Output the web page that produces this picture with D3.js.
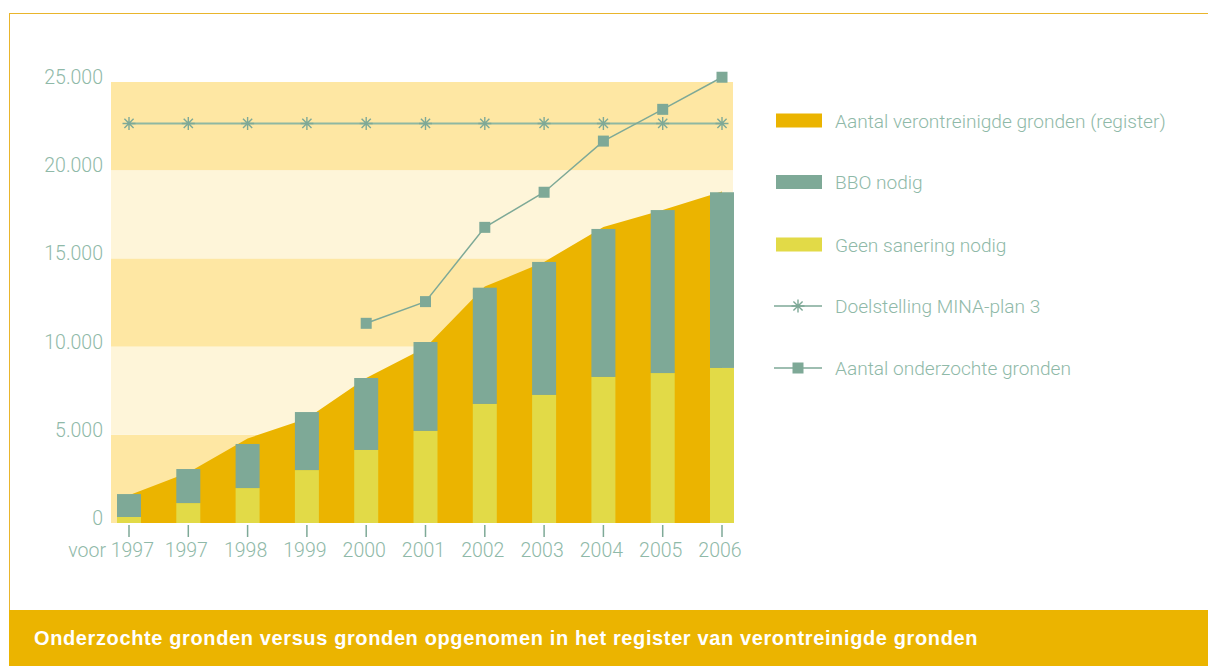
<!DOCTYPE html>
<html>
<head>
<meta charset="utf-8">
<script src="https://cdn.jsdelivr.net/npm/d3@7/dist/d3.min.js"></script>
<style>
  html, body { margin: 0; padding: 0; background: #fff; }
  svg { display: block; }
</style>
</head>
<body>
<svg id="chart" width="1208" height="666"></svg>
<script>
// ---- data ----
const categories = ["voor 1997","1997","1998","1999","2000","2001","2002","2003","2004","2005","2006"];
const registerValues = [1570, 2860, 4790, 5920, 8220, 9950, 13400, 14800, 16780, 17740, 18790];
const geenSaneringValues = [340, 1130, 1980, 3000, 4140, 5220, 6750, 7260, 8280, 8500, 8790];
const bboValues = [1300, 1930, 2500, 3290, 4080, 5040, 6590, 7540, 8390, 9240, 9960];
const doelstellingValues = [22650, 22650, 22650, 22650, 22650, 22650, 22650, 22650, 22650, 22650, 22650];
const onderzochtValues = [null, null, null, null, 11320, 12550, 16760, 18750, 21650, 23450, 25270];
const yTicks = [0, 5000, 10000, 15000, 20000, 25000];
const legendLabels = ["Aantal verontreinigde gronden (register)", "BBO nodig", "Geen sanering nodig", "Doelstelling MINA-plan 3", "Aantal onderzochte gronden"];
const titleText = "Onderzochte gronden versus gronden opgenomen in het register van verontreinigde gronden";

// ---- styles ----
const C = {
  orange: "#ebb400",
  bbo: "#7ea997",
  geen: "#e2da47",
  bandDark: "#fee7a3",
  bandLight: "#fef5d9",
  line: "#7ea997",
  starLine: "#8fb8a2",
  text: "#8fb9a8",
  titleBand: "#ebb400",
  frame: "#e9b52c"
};
const FONT = "Roboto, 'Liberation Sans', Arial, sans-serif";

const svg = d3.select("#chart");
const plot = { left: 111, right: 733, top: 82, bottom: 523 };

const x = d3.scalePoint().domain(categories).range([129, 722]);
const y = d3.scaleLinear().domain([0, 25000]).range([plot.bottom, plot.top]);
const nl = d3.formatLocale({ decimal: ",", thousands: ".", grouping: [3], currency: ["€", ""] });
const fmt = nl.format(",d");
const barW = 24;

// frame
svg.append("rect").attr("x", 9).attr("y", 13).attr("width", 1199).attr("height", 1).attr("fill", C.frame);
svg.append("rect").attr("x", 9).attr("y", 13).attr("width", 1).attr("height", 597).attr("fill", C.frame);

// background bands
const bands = d3.pairs(yTicks);
svg.append("g").selectAll("rect").data(bands).join("rect")
  .attr("x", plot.left).attr("width", plot.right - plot.left)
  .attr("y", d => y(d[1])).attr("height", d => y(d[0]) - y(d[1]))
  .attr("fill", (d, i) => i % 2 === 0 ? C.bandDark : C.bandLight);

// register area
const area = d3.area()
  .x((d, i) => x(categories[i]))
  .y0(y(0))
  .y1(d => y(d))
  .curve(d3.curveLinear);
svg.append("path").datum(registerValues).attr("d", area).attr("fill", C.orange);

// stacked bars
const gBars = svg.append("g");
categories.forEach((c, i) => {
  gBars.append("rect")
    .attr("x", x(c) - barW / 2).attr("width", barW)
    .attr("y", y(geenSaneringValues[i])).attr("height", y(0) - y(geenSaneringValues[i]))
    .attr("fill", C.geen);
  const top = geenSaneringValues[i] + bboValues[i];
  gBars.append("rect")
    .attr("x", x(c) - barW / 2).attr("width", barW)
    .attr("y", y(top)).attr("height", y(geenSaneringValues[i]) - y(top))
    .attr("fill", C.bbo);
});

// star marker path
function starPath(cx, cy, r) {
  const d = r * Math.SQRT1_2;
  return `M${cx},${cy - r}L${cx},${cy + r}` +
         `M${cx - d},${cy - d}L${cx + d},${cy + d}` +
         `M${cx - d},${cy + d}L${cx + d},${cy - d}` +
         `M${cx - r},${cy}L${cx + r},${cy}`;
}

// doelstelling line
const lineGen = d3.line()
  .defined(d => d != null)
  .x((d, i) => x(categories[i]))
  .y(d => y(d));
svg.append("path").datum(doelstellingValues).attr("d", lineGen)
  .attr("fill", "none").attr("stroke", C.starLine).attr("stroke-width", 2);
svg.append("g").selectAll("path").data(doelstellingValues).join("path")
  .attr("d", (d, i) => starPath(x(categories[i]), y(d), 6.5))
  .attr("stroke", C.line).attr("stroke-width", 1.4).attr("fill", "none");

// onderzochte line
svg.append("path").datum(onderzochtValues).attr("d", lineGen)
  .attr("fill", "none").attr("stroke", C.line).attr("stroke-width", 1.5);
const sq = 11;
svg.append("g").selectAll("rect")
  .data(onderzochtValues.map((v, i) => ({ v, c: categories[i] })).filter(d => d.v != null))
  .join("rect")
  .attr("x", d => x(d.c) - sq / 2).attr("y", d => y(d.v) - sq / 2)
  .attr("width", sq).attr("height", sq).attr("fill", C.line);

// y axis labels
svg.append("g").selectAll("text").data(yTicks).join("text")
  .attr("x", 103).attr("y", d => y(d) + 2)
  .attr("text-anchor", "end")
  .attr("font-family", FONT).attr("font-weight", 300).attr("font-size", 19.5)
  .attr("fill", C.text)
  .text(d => fmt(d));

// x axis ticks + labels
const gx = svg.append("g");
gx.selectAll("line").data(categories).join("line")
  .attr("x1", d => x(d)).attr("x2", d => x(d))
  .attr("y1", 525).attr("y2", 537)
  .attr("stroke", C.line).attr("stroke-width", 1.5);
gx.selectAll("text").data(categories).join("text")
  .attr("x", (d, i) => i === 0 ? x(d) + 25 : x(d) - 2)
  .attr("y", 557)
  .attr("text-anchor", (d, i) => i === 0 ? "end" : "middle")
  .attr("font-family", FONT).attr("font-weight", 300).attr("font-size", 19.5)
  .attr("fill", C.text)
  .text(d => d);

// legend
const legendY = [120.5, 182, 244.5, 306, 368];
const gl = svg.append("g");
legendY.forEach((ly, i) => {
  if (i < 3) {
    gl.append("rect").attr("x", 776).attr("y", ly - 7).attr("width", 46).attr("height", 14)
      .attr("fill", [C.orange, C.bbo, C.geen][i]);
  } else {
    gl.append("line").attr("x1", 774).attr("x2", 822).attr("y1", ly).attr("y2", ly)
      .attr("stroke", C.line).attr("stroke-width", 1.3);
    if (i === 3) {
      gl.append("path").attr("d", starPath(798, ly, 6.5))
        .attr("stroke", C.line).attr("stroke-width", 1.4).attr("fill", "none");
    } else {
      gl.append("rect").attr("x", 798 - sq / 2).attr("y", ly - sq / 2)
        .attr("width", sq).attr("height", sq).attr("fill", C.line);
    }
  }
  gl.append("text").attr("x", 835).attr("y", ly + 7)
    .attr("font-family", FONT).attr("font-weight", 300).attr("font-size", 19.1)
    .attr("fill", C.text).text(legendLabels[i]);
});

// title band
svg.append("rect").attr("x", 9).attr("y", 610).attr("width", 1199).attr("height", 56)
  .attr("fill", C.titleBand);
svg.append("text").attr("x", 34).attr("y", 645)
  .attr("font-family", "'Liberation Sans', Arial, sans-serif").attr("font-weight", "bold")
  .attr("font-size", 20).attr("letter-spacing", 0.62).attr("fill", "#fff")
  .text(titleText);
</script>
</body>
</html>
